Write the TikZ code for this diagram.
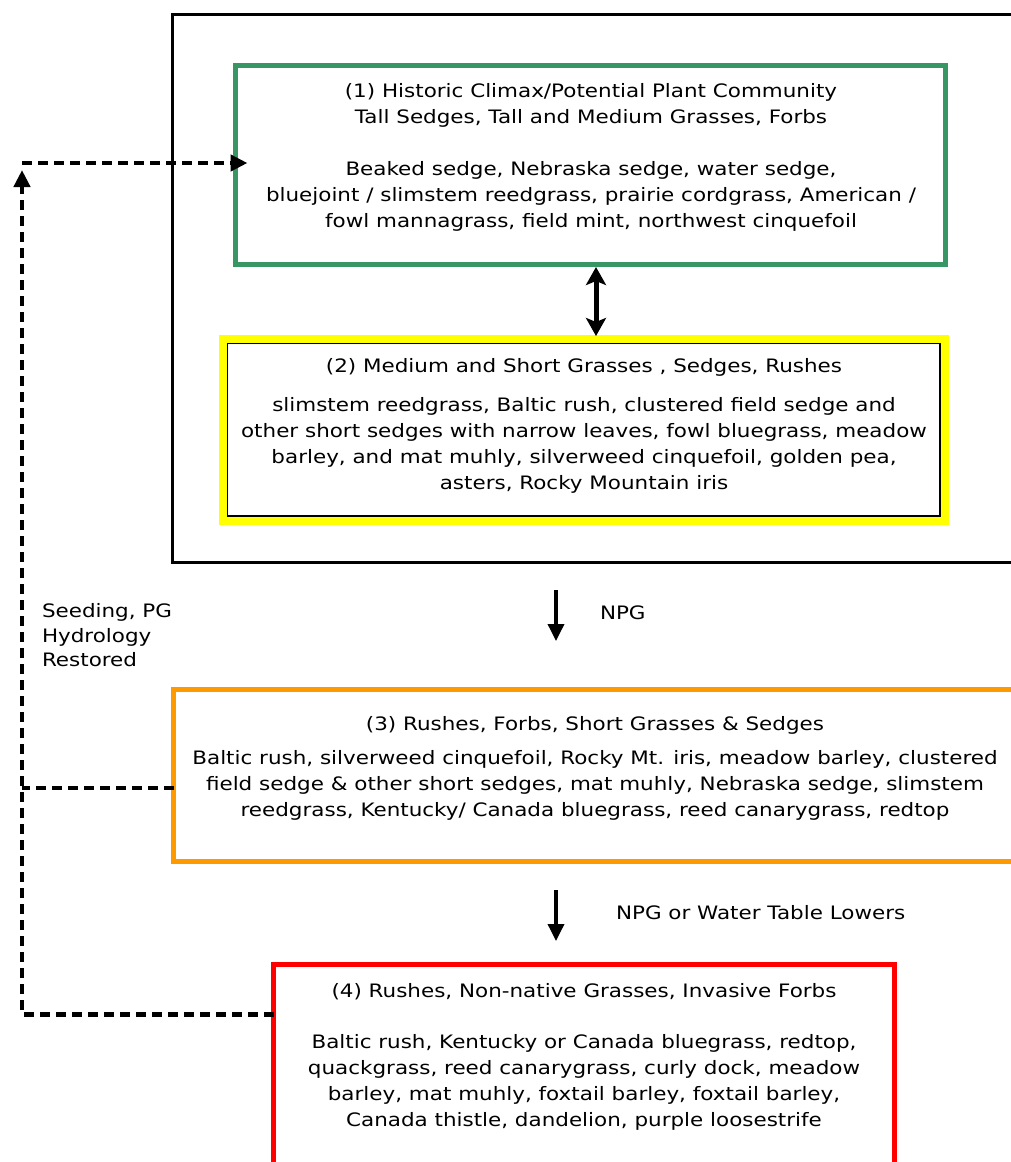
\documentclass[tikz,border=0pt]{standalone}
\usepackage{fontspec}
\setmainfont{DejaVu Sans}[FakeStretch=1.16]
\usetikzlibrary{arrows.meta}
\definecolor{cgreen}{RGB}{55,150,100}
\definecolor{corange}{RGB}{255,153,0}
\definecolor{cred}{RGB}{255,0,0}
\definecolor{cyellow}{RGB}{255,255,0}
\begin{document}
\begin{tikzpicture}[x=1pt,y=-1pt,
  box/.style={draw, rectangle, inner sep=0pt, outer sep=0pt, line width=5pt},
  txt/.style={align=center, inner sep=0pt, outer sep=0pt, font=\fontsize{18.5}{26}\selectfont},
  lbl/.style={align=left, anchor=west, inner sep=0pt, outer sep=0pt, font=\fontsize{18.5}{24.5}\selectfont},
  dsh/.style={line width=4.5pt, dash pattern=on 10pt off 6pt},
  dtip/.style={-{Triangle[length=17pt,width=16pt]}},
  flow/.style={line width=3.5pt, -{Triangle[length=17pt,width=16pt]}},
  both/.style={line width=5pt, {Stealth[length=18pt,width=20pt,inset=4pt]}-{Stealth[length=18pt,width=20pt,inset=4pt]}}
]
\fill[white] (0,0) rectangle (1011,1162);
\useasboundingbox (0,0) rectangle (1011,1162);
\clip (0,0) rectangle (1011,1162);

% boxes
\node[box, line width=3.2pt, minimum width=868.5pt, minimum height=548pt] (outer) at (606.75,288.5) {};
\node[box, draw=cgreen, minimum width=710pt, minimum height=199pt] (n1) at (590.5,165) {};
\node[box, draw=cyellow, line width=8pt, minimum width=722pt, minimum height=182pt] (n2) at (584,430) {};
\draw[line width=1.8pt] ([shift={(4.5pt,-4.5pt)}]n2.north west) rectangle ([shift={(-5pt,5pt)}]n2.south east);
\node[box, draw=corange, minimum width=867pt, minimum height=172pt] (n3) at (607,775.5) {};
\node[box, draw=cred, minimum width=621pt, minimum height=236pt] (n4) at (584,1082) {};

% texts
\node[txt] (t1) at (591,157) {(1)\ Historic Climax/Potential Plant Community\\
Tall Sedges, Tall and Medium Grasses, Forbs\\[26pt]
Beaked sedge, Nebraska sedge, water sedge,\\
bluejoint / slimstem reedgrass, prairie cordgrass, American /\\
fowl mannagrass, field mint, northwest cinquefoil};

\node[txt] (t2) at (584,426.2) {(2)\ Medium and Short Grasses , Sedges, Rushes\\[13pt]
slimstem reedgrass, Baltic rush, clustered field sedge and\\
other short sedges with narrow leaves, fowl bluegrass, meadow\\
barley, and mat muhly, silverweed cinquefoil, golden pea,\\
asters, Rocky Mountain iris};

\node[txt] (t3) at (595,768.2) {(3)\ Rushes, Forbs, Short Grasses \& Sedges\\[8pt]
Baltic rush, silverweed cinquefoil, Rocky Mt. iris, meadow barley, clustered\\
field sedge \& other short sedges, mat muhly, Nebraska sedge, slimstem\\
reedgrass, Kentucky/ Canada bluegrass, reed canarygrass, redtop};

\node[txt] (t4) at (584,1057.2) {(4) Rushes, Non-native Grasses, Invasive Forbs\\[25pt]
Baltic rush, Kentucky or Canada bluegrass, redtop,\\
quackgrass, reed canarygrass, curly dock, meadow\\
barley, mat muhly, foxtail barley, foxtail barley,\\
Canada thistle, dandelion, purple loosestrife};

\node[lbl] (lseed) at (42,635.5) {Seeding, PG\\Hydrology\\Restored};
\node[lbl] (lnpg) at (600,613) {NPG};
\node[lbl] (lwt) at (616,913) {NPG or Water Table Lowers};

% connectors
\coordinate (cTop) at (22,163);
\coordinate (cUp) at (22,170);
\coordinate (cMid) at (22,788);
\draw[dsh, dtip] ([yshift=-50.5pt]n4.north west) -| (cUp);
\draw[dsh, dtip] (cTop) -- ([xshift=12pt]n1.west |- cTop);
\draw[dsh] ([yshift=-12.5pt]n3.west) -- (cMid);

\draw[both] ([xshift=5.5pt,yshift=-2.5pt]n1.south) -- ([xshift=12pt,yshift=3pt]n2.north);

\coordinate (a1s) at (556,590);
\coordinate (a1e) at (556,641);
\coordinate (a2s) at (556,890);
\coordinate (a2e) at (556,941);
\draw[flow] (a1s) -- (a1e);
\draw[flow] (a2s) -- (a2e);
\end{tikzpicture}
\end{document}
